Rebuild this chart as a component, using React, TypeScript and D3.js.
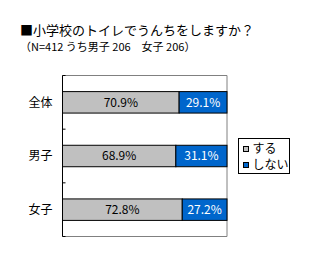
import { useEffect, useRef } from "react";
import * as d3 from "d3";

const categories = ["全体", "男子", "女子"];
const suru = [70.9, 68.9, 72.8];
const shinai = [29.1, 31.1, 27.2];
const seriesNames = ["する", "しない"];
const seriesColors = ["#C0C0C0", "#0066CC"];
const labelColors = ["#000000", "#FFFFFF"];

const W = 312;
const H = 271;
const margin = { top: 75.5, right: 85, bottom: 34.5, left: 62.5 };
const FONT = "'Noto Sans CJK JP', 'Noto Sans', sans-serif";

const App = () => {
  const ref = useRef<SVGSVGElement>(null);

  useEffect(() => {
    const svg = d3.select(ref.current);
    svg.selectAll("*").remove();

    const iw = W - margin.left - margin.right;
    const ih = H - margin.top - margin.bottom;

    const rows = categories.map((c, i) => ({ cat: c, suru: suru[i], shinai: shinai[i] }));
    const stacked = d3.stack<any>().keys(["suru", "shinai"])(rows);

    const x = d3.scaleLinear().domain([0, 100]).range([0, iw]);
    const y = d3
      .scaleBand()
      .domain(categories)
      .range([0, ih])
      .paddingInner(0.6)
      .paddingOuter(0.3);

    svg.append("rect").attr("width", W).attr("height", H).attr("fill", "#fff");

    // title
    svg
      .append("text")
      .attr("x", 20)
      .attr("y", 35)
      .attr("font-size", 13)
      .attr("font-family", FONT)
      .attr("fill", "#000")
      .text("■小学校のトイレでうんちをしますか？");
    svg
      .append("text")
      .attr("x", 20)
      .attr("y", 51)
      .attr("font-size", 11)
      .attr("font-family", FONT)
      .attr("fill", "#000")
      .text("（N=412 うち男子 206　女子 206）");

    const g = svg
      .append("g")
      .attr("transform", `translate(${margin.left},${margin.top})`);

    // frame: top, right, bottom in gray
    g.append("path")
      .attr("d", `M0,0H${iw}V${ih}H0`)
      .attr("fill", "none")
      .attr("stroke", "#808080")
      .attr("stroke-width", 1);

    // bars
    stacked.forEach((layer, li) => {
      g.append("g")
        .selectAll("rect")
        .data(layer)
        .join("rect")
        .attr("x", (d) => x(d[0]))
        .attr("y", (d) => y(d.data.cat)!)
        .attr("width", (d) => x(d[1]) - x(d[0]))
        .attr("height", y.bandwidth())
        .attr("fill", seriesColors[li])
        .attr("stroke", "#000")
        .attr("stroke-width", 1);

      g.append("g")
        .selectAll("text")
        .data(layer)
        .join("text")
        .attr("x", (d) => (x(d[0]) + x(d[1])) / 2)
        .attr("y", (d) => y(d.data.cat)! + y.bandwidth() / 2)
        .attr("dy", "0.36em")
        .attr("text-anchor", "middle")
        .attr("font-size", 12)
        .attr("font-family", FONT)
        .attr("fill", labelColors[li])
        .text((d) => d3.format(".1f")(d[1] - d[0]) + "%");
    });

    // left axis with inward ticks at band boundaries
    const bounds = d3.range(categories.length + 1).map((i) => i * (ih / categories.length));
    g.append("line")
      .attr("x1", 0)
      .attr("x2", 0)
      .attr("y1", 0)
      .attr("y2", ih)
      .attr("stroke", "#000");
    g.append("g")
      .selectAll("line")
      .data(bounds)
      .join("line")
      .attr("x1", 0)
      .attr("x2", 3)
      .attr("y1", (d) => d)
      .attr("y2", (d) => d)
      .attr("stroke", "#000");

    g.append("g")
      .selectAll("text")
      .data(categories)
      .join("text")
      .attr("x", -10)
      .attr("y", (d) => y(d)! + y.bandwidth() / 2)
      .attr("dy", "0.36em")
      .attr("text-anchor", "end")
      .attr("font-size", 12)
      .attr("font-family", FONT)
      .attr("fill", "#000")
      .text((d) => d);

    // legend
    const lg = svg.append("g").attr("transform", "translate(238.5,138.5)");
    lg.append("rect")
      .attr("width", 51)
      .attr("height", 35)
      .attr("fill", "#fff")
      .attr("stroke", "#000");
    seriesNames.forEach((n, i) => {
      lg.append("rect")
        .attr("x", 5)
        .attr("y", 8 + i * 16)
        .attr("width", 5)
        .attr("height", 5)
        .attr("fill", seriesColors[i])
        .attr("stroke", "#000");
      lg.append("text")
        .attr("x", 14)
        .attr("y", 10.5 + i * 16)
        .attr("dy", "0.36em")
        .attr("font-size", 12)
        .attr("font-family", FONT)
        .attr("fill", "#000")
        .text(n);
    });
  }, []);

  return (
    <svg
      ref={ref}
      width={W}
      height={H}
      style={{ position: "absolute", left: 0, top: 0 }}
    />
  );
};

export default App;
